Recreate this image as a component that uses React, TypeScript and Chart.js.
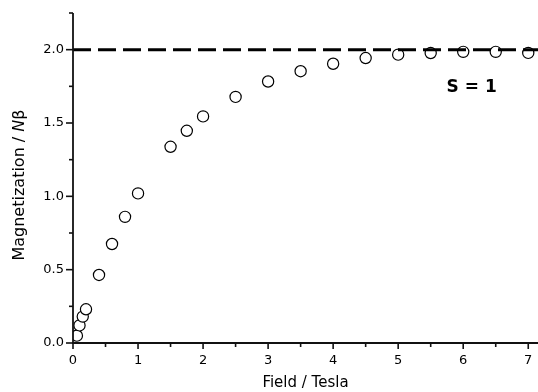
import React, { useEffect, useRef } from "react";
import { Chart, registerables } from "chart.js";

Chart.register(...registerables);

// ---- data ----
const fieldTesla: number[] = [0.06, 0.1, 0.15, 0.2, 0.4, 0.6, 0.8, 1.0, 1.5, 1.75, 2.0, 2.5, 3.0, 3.5, 4.0, 4.5, 5.0, 5.5, 6.0, 6.5, 7.0];
const magnetization: number[] = [0.05, 0.12, 0.18, 0.23, 0.464, 0.675, 0.86, 1.02, 1.338, 1.447, 1.545, 1.678, 1.783, 1.853, 1.904, 1.943, 1.966, 1.977, 1.985, 1.985, 1.978];
const saturationValue = 2.0;
const xRange: number[] = [0, 7.15];
const yRange: number[] = [0, 2.25];
const xMajorTicks: number[] = [0, 1, 2, 3, 4, 5, 6, 7];
const yMajorTicks: number[] = [0, 0.5, 1.0, 1.5, 2.0];
const xTitle = "Field / Tesla";
const yTitleParts: string[] = ["Magnetization / ", "N", "\u03B2"];
const annotationText = "S = 1";
const annotationAt: number[] = [6.13, 1.74];

const FONT = "'DejaVu Sans', 'Liberation Sans', Arial, sans-serif";

const axesPlugin = {
  id: "customAxes",
  afterDraw(chart: any) {
    const ctx = chart.ctx;
    const xs = chart.scales.x;
    const ys = chart.scales.y;
    const area = chart.chartArea;
    ctx.save();
    ctx.strokeStyle = "#111";
    ctx.lineCap = "butt";
    // axis lines
    ctx.lineWidth = 1.8;
    ctx.beginPath();
    ctx.moveTo(area.left, area.top);
    ctx.lineTo(area.left, area.bottom + 1);
    ctx.stroke();
    ctx.lineWidth = 2;
    ctx.beginPath();
    ctx.moveTo(area.left - 1, area.bottom);
    ctx.lineTo(area.right, area.bottom);
    ctx.stroke();
    // x ticks
    ctx.lineWidth = 1.6;
    xs.ticks.forEach((t: any) => {
      const px = xs.getPixelForValue(t.value);
      const major = xMajorTicks.includes(t.value);
      const len = major ? 6 : 4;
      ctx.beginPath();
      ctx.moveTo(px, area.bottom);
      ctx.lineTo(px, area.bottom + len);
      ctx.stroke();
    });
    // y ticks
    ys.ticks.forEach((t: any) => {
      const py = ys.getPixelForValue(t.value);
      const major = yMajorTicks.some((v) => Math.abs(v - t.value) < 1e-6);
      const len = major ? 7 : 4;
      ctx.beginPath();
      ctx.moveTo(area.left, py);
      ctx.lineTo(area.left - len, py);
      ctx.stroke();
    });
    // x title
    ctx.fillStyle = "#000";
    ctx.font = `15px ${FONT}`;
    ctx.textAlign = "center";
    ctx.textBaseline = "middle";
    ctx.fillText(xTitle, (area.left + area.right) / 2, 383);
    // y title with italic N
    ctx.save();
    ctx.translate(20, 185);
    ctx.rotate(-Math.PI / 2);
    const fonts = [`16px ${FONT}`, `italic 16px ${FONT}`, `16px ${FONT}`];
    let total = 0;
    const widths = yTitleParts.map((s, i) => {
      ctx.font = fonts[i];
      const w = ctx.measureText(s).width;
      total += w;
      return w;
    });
    let cx = -total / 2;
    ctx.textAlign = "left";
    yTitleParts.forEach((s, i) => {
      ctx.font = fonts[i];
      ctx.fillText(s, cx, 0);
      cx += widths[i];
    });
    ctx.restore();
    // annotation
    ctx.font = `bold 17px ${FONT}`;
    ctx.textAlign = "center";
    ctx.textBaseline = "middle";
    ctx.fillText(annotationText, xs.getPixelForValue(annotationAt[0]), ys.getPixelForValue(annotationAt[1]));
    ctx.restore();
  },
};

export default function App() {
  const ref = useRef<HTMLCanvasElement | null>(null);
  useEffect(() => {
    document.body.style.margin = "0";
    const canvas = ref.current;
    if (!canvas) return;
    const points = fieldTesla.map((x, i) => ({ x, y: magnetization[i] }));
    const chart = new Chart(canvas, {
      type: "scatter",
      data: {
        datasets: [
          {
            type: "line",
            data: [
              { x: xRange[0], y: saturationValue },
              { x: xRange[1], y: saturationValue },
            ],
            borderColor: "#000",
            borderWidth: 3,
            borderDash: [18, 7],
            pointRadius: 0,
            fill: false,
            order: 0,
          } as any,
          {
            data: points,
            pointStyle: "circle",
            pointRadius: 5.6,
            pointBackgroundColor: "#fff",
            pointBorderColor: "#000",
            pointBorderWidth: 1.2,
            order: 1,
          },
        ],
      },
      options: {
        responsive: false,
        animation: false,
        events: [],
        layout: { autoPadding: false, padding: { top: 13, left: 0, right: 0, bottom: 0 } },
        plugins: { legend: { display: false }, tooltip: { enabled: false } },
        scales: {
          x: {
            type: "linear",
            min: xRange[0],
            max: xRange[1],
            border: { display: false },
            grid: { display: false, drawTicks: false },
            ticks: {
              stepSize: 0.5,
              includeBounds: false,
              autoSkip: false,
              maxRotation: 0,
              padding: 10,
              color: "#000",
              font: { family: FONT, size: 13 },
              callback: (v: any) => (Number.isInteger(v) ? String(v) : ""),
            },
            afterFit: (s: any) => {
              s.height = 49;
              s.paddingLeft = 0;
              s.paddingRight = 0;
              s.paddingTop = 0;
              s.paddingBottom = 0;
            },
          },
          y: {
            type: "linear",
            min: yRange[0],
            max: yRange[1],
            border: { display: false },
            grid: { display: false, drawTicks: false },
            ticks: {
              stepSize: 0.25,
              includeBounds: false,
              autoSkip: false,
              padding: 9,
              color: "#000",
              font: { family: FONT, size: 13 },
              callback: (v: any) =>
                yMajorTicks.some((m) => Math.abs(m - v) < 1e-6) ? Number(v).toFixed(1) : "",
            },
            afterFit: (s: any) => {
              s.width = 73;
              s.paddingLeft = 0;
              s.paddingRight = 0;
              s.paddingTop = 0;
              s.paddingBottom = 0;
            },
          },
        },
      },
      plugins: [axesPlugin],
    });
    return () => chart.destroy();
  }, []);
  return (
    <div style={{ position: "absolute", left: 0, top: 0, width: 538, height: 392 }}>
      <canvas ref={ref} width={538} height={392} />
    </div>
  );
}
